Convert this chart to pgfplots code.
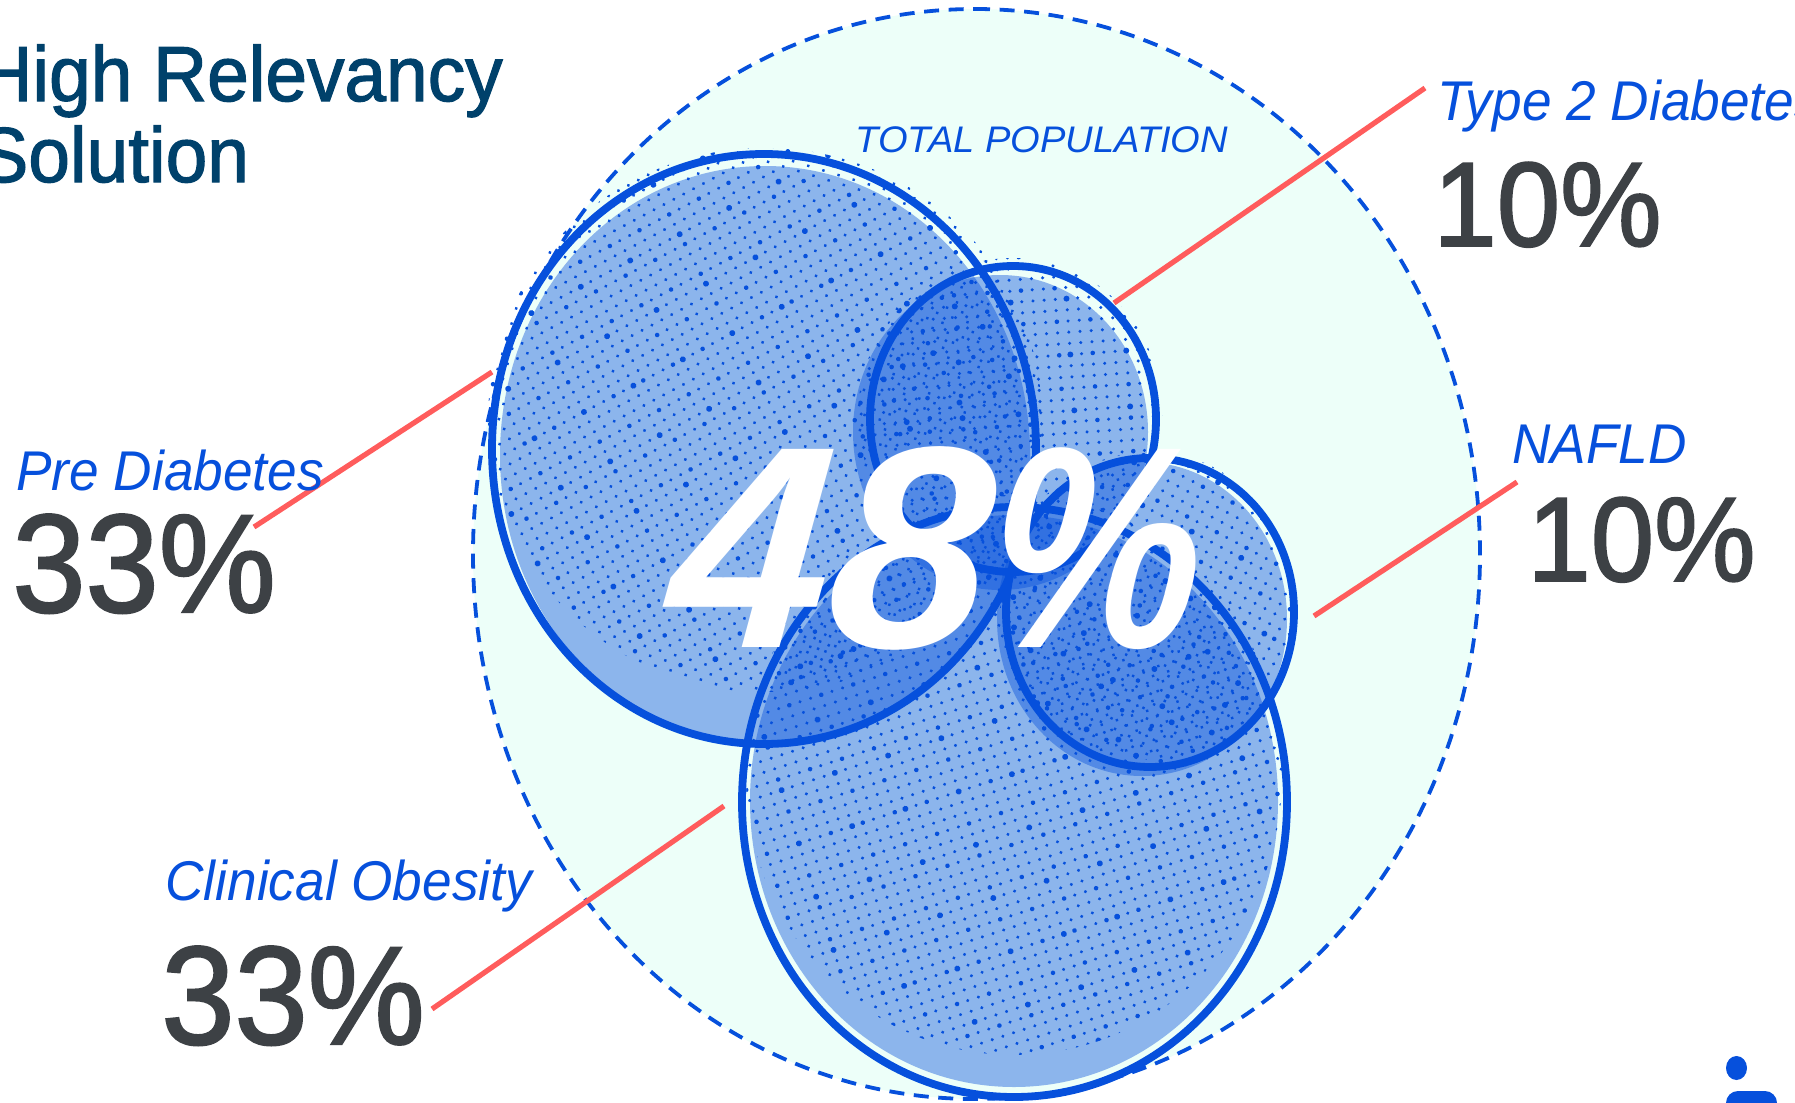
\documentclass[border=0pt]{standalone}
\usepackage{fontspec}
\usepackage{pgfplots}
\pgfplotsset{compat=1.18}
\usetikzlibrary{patterns.meta}
\setmainfont{Liberation Sans}
\newfontface\medface{Liberation Sans}[FakeBold=1.6]
\newfontface\headline{Liberation Sans Bold Italic}[FakeSlant=0.08]
\definecolor{bluemain}{HTML}{0650DC}
\definecolor{mint}{HTML}{EDFFF9}
\definecolor{coralline}{HTML}{FF5C5C}
\definecolor{slate}{HTML}{3D4145}
\definecolor{navy}{HTML}{00416B}
% halftone layers: a fine lattice with a few coarser, heavier dots among it
\tikzset{
  disc/.style={smooth cycle, tension=1},
  tone/.style n args={1}{disc, draw=none, pattern color=bluemain,
    pattern={Dots[radius=.85pt,distance=5.6pt,angle=#1]}},
  toneB/.style n args={1}{disc, draw=none, pattern color=bluemain,
    pattern={Dots[radius=1.15pt,distance=16.8pt,angle=#1]}},
  toneC/.style n args={1}{disc, draw=none, pattern color=bluemain,
    pattern={Dots[radius=1.5pt,distance=28pt,angle=#1]}},
  wash/.style={disc, draw=none, fill=bluemain, fill opacity=.42},
  ring/.style={disc, draw=bluemain, line width=3.9pt},
  leader/.style={coralline, line width=2.6pt},
  lab/.style={anchor=base west, inner sep=0pt},
}
\newcommand{\txt}[3]{\scalebox{#2}[1]{\fontsize{#1}{#1}\selectfont #3}}
\begin{document}
\begin{tikzpicture}
\path[use as bounding box, clip] (0,0) rectangle (897.5pt,551.5pt);
\begin{axis}[at={(0,0)}, anchor=south west, scale only axis, width=897.5pt, height=551.5pt,
  xmin=0, xmax=1795, ymin=0, ymax=1103, y dir=reverse, hide axis, clip=false]

% total population
\addplot[disc, fill=mint, draw=bluemain, line width=1.9pt, dash pattern=on 7.5pt off 4.8pt]
  coordinates {(473,554) (975,9) (1480,554) (975,1099)};

% leader lines
\addplot[leader] coordinates {(1425,88) (1114,303)};
\addplot[leader] coordinates {(492,372) (254,527)};
\addplot[leader] coordinates {(1517,482) (1314,616)};
\addplot[leader] coordinates {(724,806) (432,1009)};

% tinted discs
\addplot[wash] coordinates {(500,455) (765,166) (1030,455) (765,744)};
\addplot[wash] coordinates {(853,432) (1000,275) (1148,432) (1000,590)};
\addplot[wash] coordinates {(997,619) (1142,462) (1287,619) (1142,776)};
\addplot[wash] coordinates {(750,801) (1014,515) (1278,801) (1014,1087)};

% halftone dots
\addplot[tone=28]  coordinates {(488,420) (765,148) (1042,420) (765,692)};
\addplot[toneB=28] coordinates {(488,420) (765,148) (1042,420) (765,692)};
\addplot[toneC=28] coordinates {(488,420) (765,148) (1042,420) (765,692)};

\addplot[tone=4]  coordinates {(858,415) (1013,258) (1162,415) (1013,572)};
\addplot[toneB=4] coordinates {(858,415) (1013,258) (1162,415) (1013,572)};
\addplot[toneC=4] coordinates {(858,415) (1013,258) (1162,415) (1013,572)};

\addplot[tone=62]  coordinates {(1000,605) (1150,452) (1292,605) (1150,760)};
\addplot[toneB=62] coordinates {(1000,605) (1150,452) (1292,605) (1150,760)};
\addplot[toneC=62] coordinates {(1000,605) (1150,452) (1292,605) (1150,760)};

\addplot[tone=18]  coordinates {(746,775) (1014,495) (1282,775) (1014,1055)};
\addplot[toneB=18] coordinates {(746,775) (1014,495) (1282,775) (1014,1055)};
\addplot[toneC=18] coordinates {(746,775) (1014,495) (1282,775) (1014,1055)};

% outlines
\addplot[ring] coordinates {(492,449) (764,154) (1036,449) (764,744)};
\addplot[ring] coordinates {(870,419) (1013,266) (1156,419) (1013,572)};
\addplot[ring] coordinates {(1006,612) (1150,458) (1294,612) (1150,767)};
\addplot[ring] coordinates {(742,802) (1014,507) (1287,802) (1014,1097)};

% person icon
\addplot[disc, fill=bluemain, draw=none] coordinates {(1726,1068) (1736.5,1056) (1747,1068) (1736.5,1080)};
\addplot[fill=bluemain, draw=none, rounded corners=6pt] coordinates {(1726,1130) (1726,1091) (1777,1091) (1777,1130)} --cycle;

% text
\node[lab, navy] at (axis cs:-22,101) {\txt{39pt}{.96}{\medface High Relevancy}};
\node[lab, navy] at (axis cs:-22,182) {\txt{39pt}{.96}{\medface Solution}};
\node[lab, bluemain] at (axis cs:855,152) {\txt{18.5pt}{1.03}{\itshape TOTAL POPULATION}};
\node[lab, bluemain] at (axis cs:1437,120) {\txt{28pt}{.95}{\itshape Type 2 Diabetes}};
\node[lab, slate] at (axis cs:1433,246) {\txt{60pt}{.95}{\medface 10\%}};
\node[lab, bluemain] at (axis cs:1512,463) {\txt{28pt}{.95}{\itshape NAFLD}};
\node[lab, slate] at (axis cs:1527,581) {\txt{60pt}{.95}{\medface 10\%}};
\node[lab, bluemain] at (axis cs:16,490) {\txt{28pt}{.95}{\itshape Pre Diabetes}};
\node[lab, slate] at (axis cs:12,612) {\txt{70pt}{.94}{\medface 33\%}};
\node[lab, bluemain] at (axis cs:165,900) {\txt{28pt}{.95}{\itshape Clinical Obesity}};
\node[lab, slate] at (axis cs:161,1044) {\txt{70pt}{.94}{\medface 33\%}};
\node[lab, white] at (axis cs:664,647) {\txt{144pt}{1}{\headline 48\scalebox{.83}[1]{\%}}};
\end{axis}
\end{tikzpicture}
\end{document}
